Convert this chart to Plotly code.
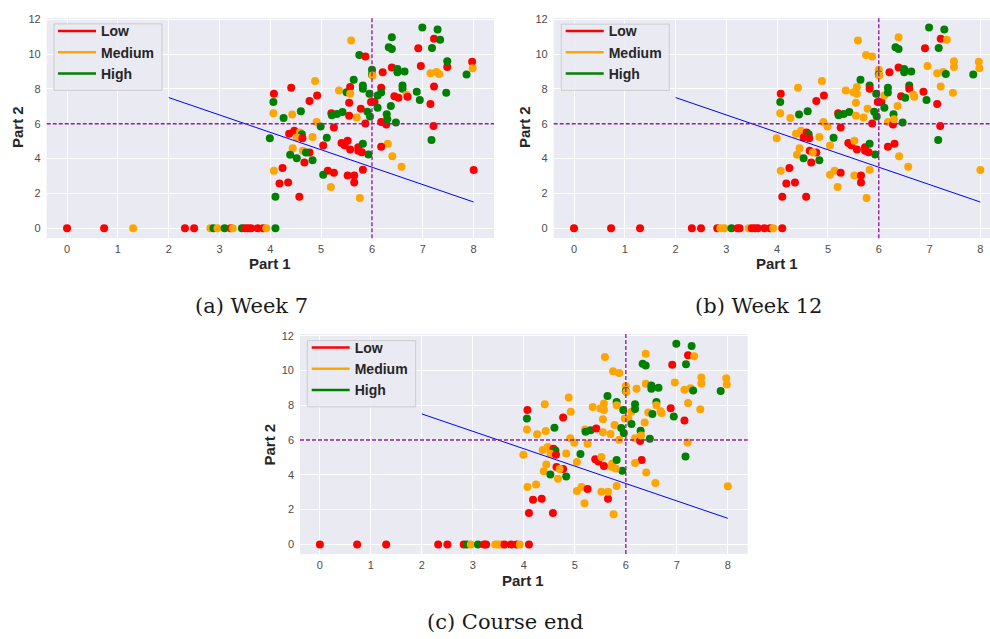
import plotly.graph_objects as go

W, H = 990, 639

# ---------------- data ----------------
# Each student: (Part 1 score, Part 2 score); the same students appear in every panel
part1 = [
    0.00, 0.73, 1.30, 2.32, 2.50, 2.82, 2.88, 2.96, 3.10, 3.22, 3.26, 3.44, 3.50, 3.56, 3.62, 3.75, 3.86, 3.92, 4.10,
    4.07, 4.06, 4.06, 3.99, 4.07, 4.10, 4.24, 4.18, 4.35, 4.57, 4.41, 4.43, 4.26, 4.60, 4.88, 4.77, 4.92, 4.91,
    4.37, 4.47, 4.58, 4.62, 4.52, 4.63, 4.44, 4.64, 4.77, 4.70, 4.39, 4.52, 4.67, 4.83, 4.83, 4.99, 5.04, 5.11,
    5.25, 5.13, 5.25, 5.04, 5.19, 5.20, 5.21, 5.31, 5.42, 5.35, 5.50, 5.57, 5.57, 5.55, 5.55, 5.70, 5.78, 5.64,
    5.82, 5.82, 5.95, 5.87, 5.91, 5.96, 5.98, 6.05, 6.00, 6.00, 6.01, 6.21, 5.75, 5.87, 5.59, 6.18, 6.11, 6.18,
    6.11, 6.18, 6.28, 6.29, 6.30, 6.47, 6.37, 6.44, 6.52, 6.39, 6.50, 6.50, 6.64, 6.60, 6.60, 6.68, 6.70, 6.33,
    6.39, 6.39, 6.91, 6.96, 6.88, 6.94, 6.99, 7.29, 7.22, 7.34, 7.18, 7.15, 7.27, 7.32, 7.22, 7.15, 7.21, 7.17,
    7.48, 7.48, 7.46, 7.86, 7.97, 7.98, 8.00, 6.31, 6.18, 6.40, 6.58, 5.82, 5.76, 5.65, 5.52, 5.65, 5.93, 5.73,
    5.80, 5.73, 5.82, 5.57, 5.40, 5.46, 5.52,
]
part2 = [
    0, 0, 0, 0, 0, 0, 0, 0, 0, 0, 0, 0, 0, 0, 0, 0, 0, 0, 0,
    7.72, 7.24, 6.60, 5.16, 3.30, 1.80, 3.45, 2.56, 2.62, 1.80, 8.06, 6.52, 6.33, 6.71, 8.45, 7.30, 7.62, 6.10,
    5.42, 5.60, 5.50, 5.40, 5.21, 5.16, 4.59, 4.45, 4.34, 4.34, 4.21, 4.02, 3.77, 3.90, 5.23, 5.84, 4.74, 5.19,
    5.78, 3.30, 3.18, 3.07, 2.37, 6.60, 6.48, 6.56, 6.67, 7.90, 7.81, 8.10, 7.72, 7.20, 6.45, 6.35, 6.86, 8.53,
    8.19, 8.00, 7.72, 6.01, 6.69, 6.41, 7.24, 7.24, 9.10, 8.82, 8.76, 8.95, 9.95, 9.86, 10.77, 8.06, 7.62, 7.79,
    6.92, 6.10, 5.95, 6.54, 6.26, 6.07, 7.01, 7.58, 7.49, 9.23, 9.14, 8.95, 9.00, 8.19, 8.00, 7.66, 7.55, 10.39,
    10.29, 10.96, 10.33, 9.31, 7.83, 7.36, 11.53, 11.41, 10.88, 10.82, 10.35, 8.89, 8.97, 8.85, 8.13, 7.13, 5.86, 5.06,
    9.25, 9.59, 7.77, 8.82, 9.55, 9.19, 3.34, 4.85, 4.68, 4.13, 3.53, 3.36, 1.73, 2.62, 3.03, 3.03, 4.23, 4.64,
    4.36, 4.45, 4.85, 4.51, 4.89, 4.76, 5.02,
]
# L = Low, M = Medium, H = High (one letter per student, same order as above)
level_week7 = list(
    "LLMLLMHMHLMHLLLLLMH"
    "LHMHMHLLLLLMHHMLLM"
    "LLMHMLMMLHHHLHMHLH"
    "LLLHMLHHHMHLMLLMLH"
    "HHHLHHLLHHMLHLMLHH"
    "HLLHHHHLLLHHHHHMLH"
    "HHLLHHHHLHHMMMLLLH"
    "LHHHLMLMLMMLMLLLHL"
    "LLHLLLL"
)
level_week12 = list(
    "LLLLLLMMHLLMLLLLLML"
    "LHMMMLLLLLMHMHMLLM"
    "MMLHLLMLLMMHLHMMMH"
    "LMLMMLHHHMMMMMMMMH"
    "HLHLHHLLMHMLMMMHMH"
    "HMLHMHMLHLHHHHLMMH"
    "HMLMLHHHLMHMMHMLLH"
    "MMMHMMMLLMMMMLMLHL"
    "LLHLLLM"
)
level_course_end = list(
    "LLLLLLHMHLLMMMLLLML"
    "LHMMMLMLLLMMMHMLMM"
    "MMLHMLMLLMMHMHMMMH"
    "MMLMMMHHLMMMMMMMMH"
    "HMHMHHMMMHMMMMMHMH"
    "HMLHMHMMHMHHHHMMMH"
    "HMLMLHHHLMHMMHMLMH"
    "MMMHMMMLMMMMMLMMHM"
    "MMHLLLM"
)
level_names = {"L": "Low", "M": "Medium", "H": "High"}
level_colors = {"L": "#FF0000", "M": "#FFA500", "H": "#008000"}

fit_x = [2, 8]
fit_y = [7.5, 1.5]
threshold = 6

panels = [
    ("(a) Week 7", level_week7),
    ("(b) Week 12", level_week12),
    ("(c) Course end", level_course_end),
]

# ---------------- layout geometry (pixels) ----------------
geo = [
    dict(l=46.7, r=494.0, t=13.0, b=235.0, xr=[-0.4, 8.4], yr=[-0.575, 12.075],
         leg=(53, 10.5), box=(54, 162, 19, 86),
         xt=(270, 261), yt=(17, 123), cap=(252, 303)),
    dict(l=553.7, r=990.0, t=13.0, b=235.0, xr=[-0.4, 8.19], yr=[-0.575, 12.075],
         leg=(560.7, 10.5), box=(561.3, 669.3, 19.3, 86),
         xt=(777, 261), yt=(524, 123), cap=(758, 303)),
    dict(l=300.0, r=747.7, t=331.7, b=553.3, xr=[-0.39, 8.39], yr=[-0.55, 12.09],
         leg=(306.7, 329.5), box=(307.3, 415.7, 338.3, 405),
         xt=(523, 580), yt=(270, 443), cap=(505, 622)),
]

fig = go.Figure()
annotations = []
shapes = []
tickfont = dict(family="Liberation Sans, Arial, sans-serif", size=11, color="#4d4d4d")
dash_line = dict(color="#931f9a", width=1.4, dash="4px,2px")

for i, ((caption, levels), g) in enumerate(zip(panels, geo)):
    k = "" if i == 0 else str(i + 1)
    xa, ya = "x" + k, "y" + k
    leg = "legend" + k
    n = min(len(levels), len(part1), len(part2))
    fig.add_trace(go.Scatter(
        x=part1[:n], y=part2[:n], mode="markers", xaxis=xa, yaxis=ya,
        marker=dict(size=8, color=[level_colors[c] for c in levels[:n]], line=dict(width=0)),
        showlegend=False, hoverinfo="x+y",
    ))
    fig.add_trace(go.Scatter(
        x=fit_x, y=fit_y, mode="lines", xaxis=xa, yaxis=ya,
        line=dict(color="#0000FF", width=1), showlegend=False,
    ))
    for code in ["L", "M", "H"]:
        fig.add_trace(go.Scatter(
            x=[None], y=[None], mode="lines", xaxis=xa, yaxis=ya,
            line=dict(color=level_colors[code], width=2.5),
            name=level_names[code], legend=leg, showlegend=True,
        ))
    xdom = [g["l"] / W, g["r"] / W]
    ydom = [1 - g["b"] / H, 1 - g["t"] / H]
    fig.update_layout(**{
        "xaxis" + k: dict(domain=xdom, range=g["xr"], anchor=ya, tickmode="array",
                          tickvals=list(range(0, 9)), showgrid=True, gridcolor="white",
                          gridwidth=1, zeroline=False, showline=False, tickfont=tickfont,
                          ticks="", ticklabelstandoff=3),
        "yaxis" + k: dict(domain=ydom, range=g["yr"], anchor=xa, tickmode="array",
                          tickvals=list(range(0, 13, 2)), showgrid=True, gridcolor="white",
                          gridwidth=1, zeroline=False, showline=False, tickfont=tickfont,
                          ticks="", ticklabelstandoff=5),
        leg: dict(x=g["leg"][0] / W, y=1 - g["leg"][1] / H, xanchor="left", yanchor="top",
                  bgcolor="rgba(0,0,0,0)", borderwidth=0,
                  font=dict(family="Liberation Sans, Arial, sans-serif", size=14,
                            color="#262626", weight="bold"),
                  itemwidth=38, tracegroupgap=0),
    })
    bx0, bx1, by0, by1 = g["box"]
    shapes.append(dict(type="rect", xref="paper", yref="paper",
                       x0=bx0 / W, x1=bx1 / W, y0=1 - by1 / H, y1=1 - by0 / H,
                       fillcolor="rgba(234,234,242,0.85)", line=dict(color="#cccccc", width=1),
                       layer="above"))
    shapes.append(dict(type="line", xref=xa, yref=ya + " domain", x0=threshold, x1=threshold,
                       y0=0, y1=1, line=dash_line, layer="above"))
    shapes.append(dict(type="line", xref=xa + " domain", yref=ya, x0=0, x1=1,
                       y0=threshold, y1=threshold, line=dash_line, layer="above"))
    annotations.append(dict(text="<b>Part 1</b>", x=g["xt"][0] / W, y=1 - g["xt"][1] / H,
                            xref="paper", yref="paper", showarrow=False,
                            xanchor="center", yanchor="middle",
                            font=dict(family="Liberation Sans, Arial, sans-serif", size=15,
                                      color="#262626")))
    annotations.append(dict(text="<b>Part 2</b>", x=g["yt"][0] / W, y=1 - g["yt"][1] / H,
                            xref="paper", yref="paper", showarrow=False, textangle=-90,
                            xanchor="center", yanchor="middle",
                            font=dict(family="Liberation Sans, Arial, sans-serif", size=15,
                                      color="#262626")))
    annotations.append(dict(text=caption, x=g["cap"][0] / W, y=1 - g["cap"][1] / H,
                            xref="paper", yref="paper", showarrow=False,
                            xanchor="center", yanchor="middle",
                            font=dict(family="DejaVu Serif, serif", size=21, color="#1a1a1a")))

fig.update_layout(
    width=W, height=H, margin=dict(l=0, r=0, t=0, b=0),
    paper_bgcolor="white", plot_bgcolor="#EAEAF2",
    shapes=shapes, annotations=annotations, hovermode="closest",
)

fig.write_html(
    "out.html",
    config={"displayModeBar": False},
    post_script="document.body.style.margin='0';document.body.style.padding='0';"
                "document.body.style.overflow='hidden';",
)
